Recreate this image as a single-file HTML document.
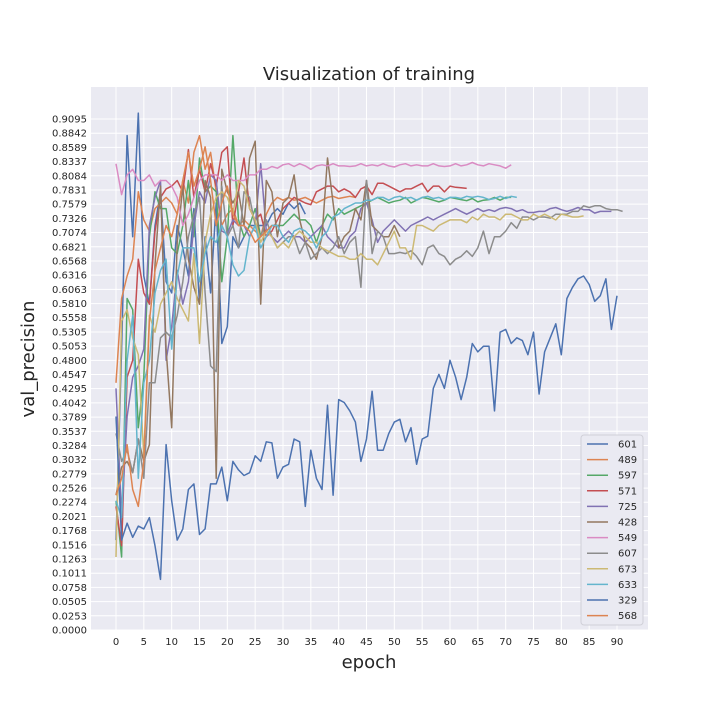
<!DOCTYPE html>
<html><head><meta charset="utf-8"><style>
html,body{margin:0;padding:0;background:#fff;}
svg{display:block;font-family:"DejaVu Sans","Liberation Sans",sans-serif;}
</style></head><body>
<svg id="chart" width="720" height="720" viewBox="0 0 720 720" xmlns="http://www.w3.org/2000/svg">
<rect x="0" y="0" width="720" height="720" fill="#fff"/>
<text x="369" y="80" font-size="18" text-anchor="middle" fill="#262626">Visualization of training</text>
<rect x="91" y="87" width="557" height="543" fill="#eaeaf2"/>
<g id="grid"></g><g id="yticks"></g><g id="xticks"></g><g id="lines"></g>
<text x="369" y="668" font-size="18" text-anchor="middle" fill="#262626">epoch</text>
<text transform="translate(34,359) rotate(-90)" font-size="18" text-anchor="middle" fill="#262626">val_precision</text>
<g id="legend"></g>
</svg>
<script>
const seriesNames = ["601","489","597","571","725","428","549","607","673","633","329","568"];
const seriesColors = ["#4c72b0","#dd8452","#55a868","#c44e52","#8172b3","#937860","#da8bc3","#8c8c8c","#ccb974","#64b5cd","#4c72b0","#dd8452"];
const s601 = [0.16,0.50,0.88,0.70,0.92,0.63,0.58,0.72,0.78,0.62,0.60,0.72,0.68,0.63,0.75,0.58,0.70,0.60,0.76,0.51,0.54,0.70,0.68,0.70,0.72,0.72,0.72,0.72,0.74,0.75,0.74,0.76,0.75,0.76,0.74];
const s489 = [0.44,0.59,0.63,0.66,0.78,0.73,0.71,0.75,0.76,0.77,0.76,0.74,0.80,0.76,0.85,0.88,0.82,0.85,0.78,0.72,0.74,0.75,0.72,0.73,0.72,0.71,0.70,0.74,0.76,0.77,0.765,0.77,0.765,0.767,0.77,0.765,0.76,0.765,0.77,0.772,0.768,0.77,0.772,0.77];
const s597 = [0.23,0.13,0.59,0.57,0.36,0.45,0.70,0.78,0.75,0.75,0.68,0.67,0.72,0.80,0.70,0.84,0.78,0.79,0.78,0.62,0.70,0.88,0.73,0.70,0.72,0.75,0.70,0.71,0.72,0.72,0.72,0.73,0.74,0.73,0.73,0.72,0.69,0.72,0.74,0.73,0.75,0.74,0.745,0.75,0.755,0.76,0.765,0.77,0.765,0.76,0.763,0.765,0.77,0.76,0.765,0.77,0.768,0.765,0.762,0.765,0.77,0.768,0.766,0.764,0.768,0.762,0.765,0.766,0.77,0.765,0.770,0.77];
const s571 = [0.22,0.15,0.45,0.48,0.66,0.60,0.58,0.71,0.77,0.785,0.79,0.80,0.78,0.855,0.77,0.82,0.78,0.83,0.79,0.85,0.86,0.72,0.78,0.84,0.75,0.73,0.74,0.70,0.71,0.73,0.75,0.76,0.77,0.765,0.76,0.757,0.78,0.785,0.79,0.79,0.78,0.785,0.78,0.77,0.785,0.79,0.775,0.795,0.795,0.79,0.785,0.78,0.785,0.785,0.79,0.795,0.78,0.79,0.79,0.78,0.79,0.788,0.787,0.786];
const s725 = [0.43,0.20,0.38,0.45,0.47,0.50,0.72,0.77,0.80,0.48,0.54,0.64,0.58,0.62,0.72,0.78,0.76,0.81,0.80,0.71,0.705,0.73,0.72,0.72,0.70,0.72,0.83,0.71,0.70,0.69,0.70,0.71,0.70,0.70,0.69,0.70,0.71,0.72,0.70,0.69,0.68,0.68,0.70,0.71,0.75,0.76,0.73,0.69,0.71,0.72,0.73,0.72,0.71,0.72,0.725,0.73,0.735,0.73,0.735,0.74,0.745,0.75,0.745,0.74,0.745,0.75,0.745,0.748,0.745,0.75,0.752,0.75,0.745,0.748,0.743,0.743,0.745,0.745,0.750,0.752,0.748,0.745,0.748,0.752,0.748,0.748,0.742,0.745,0.745,0.745];
const s428 = [0.24,0.29,0.30,0.28,0.34,0.30,0.33,0.65,0.79,0.50,0.36,0.69,0.79,0.66,0.61,0.58,0.80,0.77,0.27,0.82,0.78,0.76,0.78,0.72,0.84,0.87,0.58,0.80,0.78,0.70,0.76,0.77,0.81,0.73,0.69,0.68,0.66,0.70,0.84,0.76,0.68,0.70,0.71,0.75,0.73,0.80,0.72,0.71,0.70,0.70,0.72,0.70];
const s549 = [0.83,0.775,0.81,0.82,0.80,0.80,0.81,0.79,0.80,0.80,0.79,0.77,0.72,0.74,0.77,0.80,0.81,0.81,0.81,0.80,0.81,0.80,0.80,0.80,0.81,0.81,0.82,0.82,0.825,0.822,0.828,0.83,0.825,0.83,0.826,0.82,0.826,0.828,0.826,0.83,0.826,0.826,0.825,0.826,0.83,0.826,0.828,0.826,0.83,0.826,0.824,0.828,0.83,0.826,0.828,0.826,0.826,0.83,0.826,0.825,0.826,0.83,0.826,0.828,0.832,0.828,0.826,0.83,0.828,0.826,0.822,0.828];
const s607 = [0.35,0.30,0.32,0.28,0.34,0.27,0.44,0.44,0.52,0.53,0.52,0.56,0.62,0.70,0.74,0.77,0.60,0.47,0.46,0.79,0.70,0.72,0.68,0.78,0.77,0.72,0.70,0.73,0.70,0.68,0.69,0.70,0.70,0.67,0.69,0.66,0.67,0.68,0.67,0.68,0.70,0.67,0.69,0.70,0.61,0.80,0.67,0.71,0.70,0.67,0.67,0.672,0.67,0.675,0.665,0.65,0.68,0.685,0.67,0.665,0.65,0.66,0.665,0.675,0.665,0.68,0.71,0.67,0.70,0.70,0.71,0.725,0.715,0.735,0.735,0.73,0.735,0.735,0.733,0.74,0.74,0.74,0.745,0.745,0.755,0.752,0.755,0.755,0.75,0.748,0.748,0.745];
const s673 = [0.13,0.55,0.57,0.52,0.49,0.31,0.56,0.53,0.58,0.60,0.62,0.59,0.57,0.55,0.67,0.51,0.69,0.74,0.77,0.78,0.77,0.74,0.80,0.79,0.75,0.73,0.69,0.71,0.70,0.68,0.69,0.68,0.70,0.71,0.70,0.69,0.69,0.68,0.675,0.67,0.665,0.665,0.66,0.66,0.67,0.66,0.66,0.65,0.67,0.69,0.71,0.68,0.68,0.66,0.72,0.72,0.715,0.71,0.72,0.725,0.73,0.73,0.73,0.725,0.735,0.73,0.74,0.735,0.735,0.73,0.74,0.74,0.735,0.73,0.73,0.74,0.735,0.74,0.735,0.73,0.74,0.738,0.735,0.735,0.737];
const s633 = [0.23,0.20,0.48,0.56,0.27,0.44,0.48,0.60,0.64,0.66,0.50,0.63,0.68,0.68,0.68,0.62,0.67,0.70,0.69,0.72,0.70,0.65,0.63,0.64,0.70,0.72,0.68,0.70,0.72,0.72,0.70,0.69,0.71,0.715,0.71,0.70,0.68,0.70,0.71,0.735,0.74,0.75,0.755,0.76,0.76,0.765,0.765,0.77,0.77,0.765,0.77,0.772,0.768,0.77,0.765,0.77,0.772,0.768,0.77,0.766,0.77,0.77,0.768,0.772,0.77,0.772,0.77,0.766,0.768,0.772,0.768,0.772,0.77];
const s329 = [0.38,0.16,0.19,0.165,0.185,0.18,0.20,0.15,0.09,0.33,0.23,0.16,0.18,0.25,0.26,0.17,0.18,0.26,0.26,0.29,0.23,0.30,0.285,0.275,0.28,0.31,0.30,0.335,0.333,0.27,0.29,0.295,0.34,0.335,0.22,0.32,0.27,0.25,0.40,0.24,0.41,0.405,0.39,0.37,0.30,0.34,0.425,0.32,0.32,0.35,0.37,0.375,0.335,0.36,0.295,0.34,0.345,0.43,0.455,0.43,0.48,0.45,0.41,0.45,0.51,0.495,0.505,0.505,0.39,0.53,0.535,0.51,0.52,0.515,0.49,0.53,0.42,0.495,0.52,0.545,0.49,0.59,0.61,0.625,0.63,0.615,0.585,0.595,0.625,0.535,0.595];
const s568 = [0.24,0.27,0.33,0.25,0.22,0.30,0.55,0.64,0.68,0.72,0.70,0.74,0.80,0.85,0.79,0.82,0.86,0.80,0.72,0.76,0.79,0.74,0.72,0.72,0.71,0.69,0.70,0.71,0.72];
const seriesData = [s601,s489,s597,s571,s725,s428,s549,s607,s673,s633,s329,s568];
const yTickLabels = ["0.0000","0.0253","0.0505","0.0758","0.1011","0.1263","0.1516","0.1768","0.2021","0.2274","0.2526","0.2779","0.3032","0.3284","0.3537","0.3789","0.4042","0.4295","0.4547","0.4800","0.5053","0.5305","0.5558","0.5810","0.6063","0.6316","0.6568","0.6821","0.7074","0.7326","0.7579","0.7831","0.8084","0.8337","0.8589","0.8842","0.9095"];
const xTickLabels = ["0","5","10","15","20","25","30","35","40","45","50","55","60","65","70","75","80","85","90"];

const NS="http://www.w3.org/2000/svg";
const X0=116, XS=(617-116)/90, Y0=630, YS=(630-119)/0.9095;
const xScale=v=>X0+v*XS, yScale=v=>Y0-v*YS;
function mk(tag,attrs,parent){const e=document.createElementNS(NS,tag);for(const k in attrs)e.setAttribute(k,attrs[k]);parent.appendChild(e);return e;}
const grid=document.getElementById('grid'), yt=document.getElementById('yticks'), xt=document.getElementById('xticks');
yTickLabels.forEach(l=>{const y=yScale(parseFloat(l));
 const g=mk('line',{x1:91,x2:648,y1:y,y2:y,stroke:'#fff','stroke-width':1},grid);
 
 
 const t=mk('text',{x:87,y:y+3.5,'font-size':10,'text-anchor':'end',fill:'#262626'},yt);t.textContent=l;
 
 
});
xTickLabels.forEach(l=>{const x=xScale(parseFloat(l));
 const g=mk('line',{x1:x,x2:x,y1:87,y2:630,stroke:'#fff','stroke-width':1},grid);
 
 
 const t=mk('text',{x:x,y:645,'font-size':10,'text-anchor':'middle',fill:'#262626'},xt);t.textContent=l;
 
 
});
const lines=document.getElementById('lines');
seriesData.forEach((d,i)=>{
 const pts=d.map((v,k)=>xScale(k).toFixed(1)+','+yScale(v).toFixed(1)).join(' ');
 const p=mk('polyline',{points:pts,fill:'none',stroke:seriesColors[i],'stroke-width':1.5,'stroke-linejoin':'round'},lines);
 
 
});
const lg=document.getElementById('legend');
const box=mk('rect',{x:581,y:435,width:62,height:190,fill:'#eaeaf2',stroke:'#d0d0d8','stroke-width':1,rx:3},lg);


seriesNames.forEach((n,i)=>{const y=444+i*15.6;
 const l=mk('line',{x1:587,x2:608,y1:y,y2:y,stroke:seriesColors[i],'stroke-width':1.5},lg);
 
 
 const t=mk('text',{x:618,y:y+3.5,'font-size':10,fill:'#262626'},lg);t.textContent=n;
 
 
});
</script>
</body></html>
